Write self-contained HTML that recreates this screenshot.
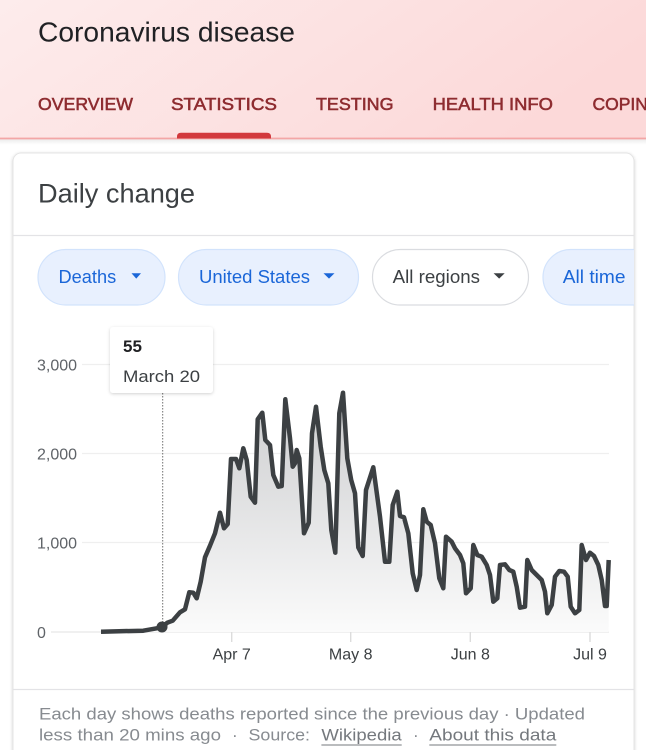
<!DOCTYPE html>
<html><head><meta charset="utf-8">
<style>
html,body{margin:0;padding:0;background:#fff;}
svg{display:block;font-family:"Liberation Sans",Arial,sans-serif;}
</style></head>
<body>
<svg width="646" height="750" viewBox="0 0 646 750" xmlns="http://www.w3.org/2000/svg">
<defs>
<linearGradient id="hdr" x1="0" y1="0" x2="1" y2="0.3">
<stop offset="0" stop-color="#fdecec"/>
<stop offset="1" stop-color="#fcd9d9"/>
</linearGradient>
<linearGradient id="area" gradientUnits="userSpaceOnUse" x1="0" y1="392" x2="0" y2="632">
<stop offset="0" stop-color="#cbccce"/>
<stop offset="1" stop-color="#fbfbfb"/>
</linearGradient>
<linearGradient id="hshadow" x1="0" y1="0" x2="0" y2="1">
<stop offset="0" stop-color="#ececec"/>
<stop offset="1" stop-color="#ffffff"/>
</linearGradient>
<filter id="sh" x="-10%" y="-10%" width="120%" height="120%">
<feDropShadow dx="0" dy="1" stdDeviation="1.5" flood-color="#000" flood-opacity="0.18"/>
</filter>
<clipPath id="cardclip"><rect x="13" y="153" width="621" height="620" rx="8"/></clipPath>
</defs>

<!-- header -->
<rect x="0" y="0" width="646" height="139" fill="url(#hdr)"/>
<rect x="0" y="139.5" width="646" height="5" fill="url(#hshadow)"/>
<rect x="0" y="137.6" width="646" height="1.8" fill="#f3a6a6"/>
<text x="38" y="41.7" font-size="28" fill="#202124" textLength="257" lengthAdjust="spacingAndGlyphs">Coronavirus disease</text>
<g font-size="17.5" font-weight="normal" fill="#8e2c30" stroke="#8e2c30" stroke-width="0.55">
<text x="38" y="110" textLength="95" lengthAdjust="spacingAndGlyphs">OVERVIEW</text>
<text x="171" y="110" textLength="106" lengthAdjust="spacingAndGlyphs">STATISTICS</text>
<text x="316" y="110" textLength="77.5" lengthAdjust="spacingAndGlyphs">TESTING</text>
<text x="432.6" y="110" textLength="120.4" lengthAdjust="spacingAndGlyphs">HEALTH INFO</text>
<text x="592.5" y="110">COPING</text>
</g>
<path d="M177,138.5 L177,136.5 Q177,132.7 181,132.7 L267,132.7 Q271,132.7 271,136.5 L271,138.5 Z" fill="#d2393d"/>

<!-- card -->
<rect x="13" y="153" width="621" height="620" rx="8" fill="#fff" stroke="#e4e4e4" stroke-width="1" filter="url(#sh)"/>
<text x="38" y="202.7" font-size="27" fill="#3c4043" textLength="157" lengthAdjust="spacingAndGlyphs">Daily change</text>
<line x1="13" y1="235.5" x2="634" y2="235.5" stroke="#e3e3e6" stroke-width="1.2"/>

<g clip-path="url(#cardclip)">
<!-- chips -->
<rect x="38" y="249.5" width="127" height="55.5" rx="27.75" fill="#e8f0fe" stroke="#d2e3fc" stroke-width="1.2"/>
<text x="58.5" y="283" font-size="18" fill="#1a66d8" textLength="57.7" lengthAdjust="spacingAndGlyphs">Deaths</text>
<path d="M131.5,273.3 L141,273.3 L136.25,278.6 Z" fill="#1a66d8"/>

<rect x="178.5" y="249.5" width="180" height="55.5" rx="27.75" fill="#e8f0fe" stroke="#d2e3fc" stroke-width="1.2"/>
<text x="199" y="283" font-size="18" fill="#1a66d8" textLength="111" lengthAdjust="spacingAndGlyphs">United States</text>
<path d="M323.5,273.3 L334.5,273.3 L329,278.6 Z" fill="#1a66d8"/>

<rect x="372.5" y="249.5" width="156" height="55.5" rx="27.75" fill="#fff" stroke="#dadce0" stroke-width="1.2"/>
<text x="392.7" y="283" font-size="18" fill="#3c4043" textLength="87.3" lengthAdjust="spacingAndGlyphs">All regions</text>
<path d="M493.6,273.3 L504.7,273.3 L499.15,278.6 Z" fill="#3c4043"/>

<rect x="543" y="249.5" width="130" height="55.5" rx="27.75" fill="#e8f0fe" stroke="#d2e3fc" stroke-width="1.2"/>
<text x="562.8" y="283" font-size="18" fill="#1a66d8" textLength="62.7" lengthAdjust="spacingAndGlyphs">All time</text>
</g>

<!-- gridlines -->
<g stroke="#efefef" stroke-width="1.2">
<line x1="82" y1="364.5" x2="609" y2="364.5"/>
<line x1="82" y1="453.5" x2="609" y2="453.5"/>
<line x1="82" y1="542.5" x2="609" y2="542.5"/>
<line x1="51" y1="632" x2="609" y2="632" stroke="#e8e8e8"/>
</g>
<g font-size="16" fill="#5f6368">
<text x="37" y="370.5">3,000</text>
<text x="37" y="459.5">2,000</text>
<text x="37" y="548.5">1,000</text>
<text x="37" y="638">0</text>
</g>
<!-- x ticks -->
<g stroke="#dcdcdc" stroke-width="1.4">
<line x1="231.7" y1="632" x2="231.7" y2="642"/>
<line x1="350.7" y1="632" x2="350.7" y2="642"/>
<line x1="470.3" y1="632" x2="470.3" y2="642"/>
<line x1="590" y1="632" x2="590" y2="642"/>
</g>
<g font-size="16" fill="#3c4043" text-anchor="middle">
<text x="231.7" y="659.3">Apr 7</text>
<text x="350.7" y="659.3">May 8</text>
<text x="470.3" y="659.3">Jun 8</text>
<text x="590" y="659.3">Jul 9</text>
</g>

<!-- series -->
<path d="M101,632 L101,631.7 143.3,630.7 156.7,628.3 161.7,627.3 167.3,622.7 172.7,620.7 180,612.3 185,609.3 189.3,592.3 193.3,592.7 196.7,598.3 200.7,581.7 205,557.3 210,545.7 215,533.3 220,512.7 224,528.3 227.7,524 231,459 236,459 239.3,468.3 243.3,448.3 246.7,460 250.7,496.7 255,502.7 257.7,419.3 262.3,412.7 265.3,440 270,445 273.3,475 278.3,486.7 281.7,486 285.3,399.3 290,438.3 292.7,466.7 295,463.3 296.7,450 299.3,458.3 304,533.3 308.7,522.7 312,433.3 316,406.7 320.7,446.7 324.3,470 328.3,483.3 331.3,530 335.3,552.7 339.3,413.3 343,392.7 347.3,458.3 351.2,480 355,493.3 358.3,547.5 362.7,556 366,490 373.3,467.3 380,516.7 385,561.7 389.3,561.7 392.7,505 397.3,491.7 400,516 404,517.3 408.3,533.3 412.7,573.3 416.7,590 420,575 423.3,509.3 426.7,521.7 430.7,525 435,543.3 439.3,578.3 443.3,588.3 446,536.7 451.7,541.7 455,548.3 460,555 463.3,563.3 466,593.3 470.7,588.3 473.3,545 477.3,555 481.7,556.7 486.7,565 490,575 493.3,601.7 497.3,598.3 500,565 505,564.3 509.3,570 513.3,571.7 516.7,586.7 520,607.7 525,606.7 527.3,560 531.7,570 536.7,575 541.7,580 545,591.7 547.3,613.3 551.7,605 555,576.7 559.3,571 564,571.7 567.7,576.7 570.7,606.7 575,613.3 579.3,610 581.7,545 586,560 590,552.7 594,556 598.3,565 601.7,580 605,606 606.7,606 608.7,560 L608.7,632 Z" fill="url(#area)"/>
<polyline fill="none" stroke="#3c4043" stroke-width="4.5" stroke-linejoin="round" stroke-linecap="butt" points="101,631.7 143.3,630.7 156.7,628.3 161.7,627.3 167.3,622.7 172.7,620.7 180,612.3 185,609.3 189.3,592.3 193.3,592.7 196.7,598.3 200.7,581.7 205,557.3 210,545.7 215,533.3 220,512.7 224,528.3 227.7,524 231,459 236,459 239.3,468.3 243.3,448.3 246.7,460 250.7,496.7 255,502.7 257.7,419.3 262.3,412.7 265.3,440 270,445 273.3,475 278.3,486.7 281.7,486 285.3,399.3 290,438.3 292.7,466.7 295,463.3 296.7,450 299.3,458.3 304,533.3 308.7,522.7 312,433.3 316,406.7 320.7,446.7 324.3,470 328.3,483.3 331.3,530 335.3,552.7 339.3,413.3 343,392.7 347.3,458.3 351.2,480 355,493.3 358.3,547.5 362.7,556 366,490 373.3,467.3 380,516.7 385,561.7 389.3,561.7 392.7,505 397.3,491.7 400,516 404,517.3 408.3,533.3 412.7,573.3 416.7,590 420,575 423.3,509.3 426.7,521.7 430.7,525 435,543.3 439.3,578.3 443.3,588.3 446,536.7 451.7,541.7 455,548.3 460,555 463.3,563.3 466,593.3 470.7,588.3 473.3,545 477.3,555 481.7,556.7 486.7,565 490,575 493.3,601.7 497.3,598.3 500,565 505,564.3 509.3,570 513.3,571.7 516.7,586.7 520,607.7 525,606.7 527.3,560 531.7,570 536.7,575 541.7,580 545,591.7 547.3,613.3 551.7,605 555,576.7 559.3,571 564,571.7 567.7,576.7 570.7,606.7 575,613.3 579.3,610 581.7,545 586,560 590,552.7 594,556 598.3,565 601.7,580 605,606 606.7,606 608.7,560"/>

<!-- hover marker -->
<line x1="162.7" y1="393" x2="162.7" y2="627" stroke="#6f6f6f" stroke-width="1" stroke-dasharray="1.5,1.5"/>
<circle cx="162" cy="627" r="5.5" fill="#3c4043"/>

<!-- tooltip -->
<rect x="110" y="327" width="103" height="66" rx="3" fill="#fff" filter="url(#sh)"/>
<text x="123" y="352" font-size="17" font-weight="bold" fill="#202124">55</text>
<text x="123" y="382" font-size="16.5" fill="#3c4043" textLength="77" lengthAdjust="spacingAndGlyphs">March 20</text>

<!-- footer -->
<line x1="13" y1="689.5" x2="634" y2="689.5" stroke="#e3e3e6" stroke-width="1.2"/>
<g font-size="17" fill="#878b90">
<text x="39" y="719.3" textLength="546" lengthAdjust="spacingAndGlyphs">Each day shows deaths reported since the previous day · Updated</text>
<text x="39" y="740.7" textLength="182" lengthAdjust="spacingAndGlyphs">less than 20 mins ago</text>
<text x="232" y="740.7">·</text>
<text x="248.5" y="740.7" textLength="61.5" lengthAdjust="spacingAndGlyphs">Source:</text>
<text x="321.4" y="740.7" textLength="80.3" lengthAdjust="spacingAndGlyphs" fill="#74787d">Wikipedia</text>
<text x="413" y="740.7">·</text>
<text x="429.3" y="740.7" textLength="127" lengthAdjust="spacingAndGlyphs" fill="#74787d">About this data</text>
</g>
<line x1="321.4" y1="745" x2="401.7" y2="745" stroke="#74787d" stroke-width="1"/>
<line x1="429.3" y1="745" x2="556.3" y2="745" stroke="#74787d" stroke-width="1"/>
</svg>
</body></html>
